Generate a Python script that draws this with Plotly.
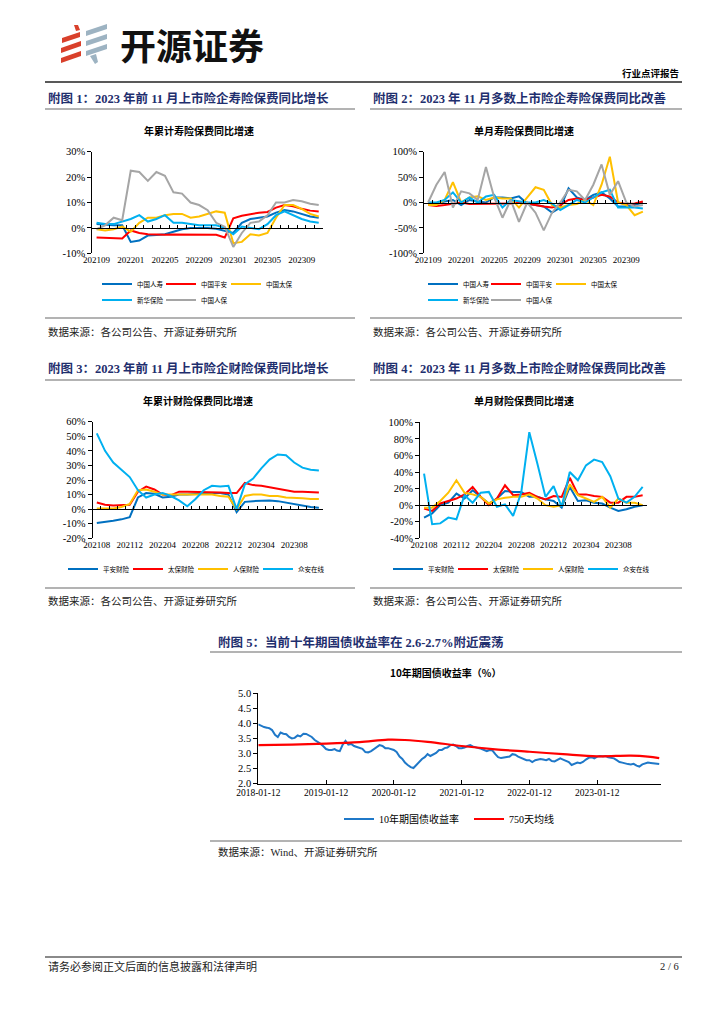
import plotly.graph_objects as go

W, H = 724, 1024
OFF = 8  # page body margin of the browser


def px(x):
    return (x - OFF) / W


def py(y):
    return 1 - (y - OFF) / H


SERIF = "Liberation Serif, Noto Sans CJK SC"
CJK = "Noto Sans CJK SC"
NAVY = "#1F2F6E"

C_DBLUE = "#0070C0"
C_RED = "#FF0000"
C_YEL = "#FFC000"
C_LBLUE = "#00B0F0"
C_GRAY = "#A5A5A5"

# ---------------- data ----------------
months_life = ["202109", "202110", "202111", "202112", "202201", "202202", "202203",
               "202204", "202205", "202206", "202207", "202208", "202209", "202210",
               "202211", "202212", "202301", "202302", "202303", "202304", "202305",
               "202306", "202307", "202308", "202309", "202310", "202311"]
life_ticks = ["202109", "202201", "202205", "202209", "202301", "202305", "202309"]

# Chart 1: 年累计寿险保费同比增速 (%)
ytd_chinalife = [1.5, 1.2, 1.0, 1.0, -5.5, -5.0, -3.0, -2.8, -2.5, -1.5, -0.5, 0.0, 0.0, 0.0,
                 -0.3, -1.0, -2.0, 2.0, 3.5, 4.0, 4.5, 6.0, 7.0, 6.5, 5.5, 4.5, 4.0]
ytd_pingan = [-3.8, -4.0, -4.2, -4.2, -1.0, -2.0, -2.5, -2.7, -2.7, -2.6, -2.6, -2.7, -2.7, -2.6,
              -2.7, -3.8, 3.8, 4.8, 5.5, 6.0, 6.3, 8.0, 9.0, 8.5, 7.5, 6.8, 6.5]
ytd_cpic = [-0.5, -1.0, -0.5, 0.5, -1.5, 2.0, 4.0, 4.0, 5.0, 5.5, 5.5, 4.0, 4.5, 5.5,
            6.5, 6.0, -6.0, -5.5, -2.5, -3.0, -2.0, 4.0, 9.0, 9.0, 7.5, 5.5, 4.5]
ytd_nci = [2.0, 1.5, 1.5, 2.5, 3.5, 5.0, 2.5, 3.5, 5.0, 2.0, 2.0, 1.5, 1.0, 1.0,
           1.0, 0.0, -2.5, 0.5, 0.0, -0.5, 1.5, 5.0, 6.5, 5.0, 3.5, 2.5, 2.0]
ytd_picc = [-0.5, 1.0, 4.0, 3.0, 22.5, 22.0, 18.5, 22.0, 20.5, 14.0, 13.5, 10.0, 9.0, 7.0,
            2.0, 0.5, -7.5, -2.0, 2.0, 2.5, 5.0, 10.0, 10.0, 11.0, 10.5, 9.5, 9.0]

# Chart 2: 单月寿险保费同比增速 (%)
mon_chinalife = [0, -2, 2, 5, -5, 5, 2, 0, 10, 10, 8, 12, -2, -5, -8, -20, -10, 28, 10, 5,
                 15, 20, 8, -8, -8, -5, 0]
mon_pingan = [-5, -7, -5, -3, 0, -3, -3, -2, -2, -3, -2, 0, -2, -5, -8, -10, -5, 5, 8, 5,
              10, 15, 12, 0, -3, -2, 2]
mon_cpic = [-5, -5, 5, 40, 0, 10, 12, 5, 10, 8, 8, -10, 10, 30, 25, -5, -10, -5, -3, 5,
            -5, 35, 90, 0, -5, -25, -18]
mon_nci = [0, 0, 5, 20, 0, 10, 0, 12, 15, -10, 5, 2, 0, 0, 5, -2, -15, -5, 5, 0,
           10, 20, 25, -10, -10, -10, -12]
mon_picc = [0, 35, 60, -10, 22, 18, 5, 70, 10, -30, 5, -38, 0, -20, -55, -20, 0, 25, 22, 5,
            35, 75, 15, 42, 0, -8, -5]

months_pc = ["202108", "202109", "202110", "202111", "202112", "202201", "202202", "202203",
             "202204", "202205", "202206", "202207", "202208", "202209", "202210", "202211",
             "202212", "202301", "202302", "202303", "202304", "202305", "202306", "202307",
             "202308", "202309", "202310", "202311"]
pc_ticks = ["202108", "202112", "202204", "202208", "202212", "202304", "202308"]

# Chart 3: 年累计财险保费同比增速 (%)
ytd_pa_pc = [-9.5, -9.0, -8.0, -7.0, -5.5, 8.0, 11.0, 10.5, 8.0, 8.5, 10.0, 10.0, 10.5, 11.0,
             11.0, 11.0, 10.0, -2.0, 5.0, 5.5, 6.0, 6.0, 5.5, 4.5, 3.0, 2.0, 1.5, 1.0]
ytd_cpic_pc = [4.5, 3.0, 2.5, 3.0, 3.0, 12.0, 15.5, 13.5, 10.0, 9.5, 12.0, 12.0, 12.0, 12.0,
               12.0, 11.5, 11.0, 11.0, 18.0, 16.5, 16.0, 15.0, 14.0, 13.0, 12.0, 12.0, 11.5, 11.5]
ytd_picc_pc = [0.5, 0.5, 0.5, 1.5, 3.5, 13.0, 13.5, 12.0, 10.0, 10.0, 10.0, 10.0, 10.0, 10.0,
               10.0, 9.0, 8.5, 0.0, 9.0, 10.0, 10.0, 9.0, 9.0, 8.0, 8.0, 7.5, 7.0, 7.0]
ytd_za = [52.0, 40.0, 32.0, 27.0, 22.0, 13.0, 8.0, 10.0, 11.0, 9.0, 6.0, 2.0, 7.0, 13.0,
          16.0, 15.5, 16.0, 0.0, 17.0, 21.0, 28.0, 34.0, 37.5, 37.0, 32.0, 28.5, 27.0, 26.5]

# Chart 4: 单月财险保费同比增速 (%)
mon_pa_pc = [-15, -10, 0, 3, 14, 8, 18, 10, 2, 8, 17, 16, 16, 10,
             10, 7, 5, -3, 22, 5, 6, 3, 2, -3, -7, -5, -2, 0]
mon_cpic_pc = [-4, -7, 2, 5, 8, 13, 22, 10, 0, 8, 24, 12, 13, 15,
               10, 7, 11, 10, 33, 13, 13, 11, 10, 3, 3, 10, 10, 12]
mon_picc_pc = [-3, -3, 5, 15, 30, 15, 13, 10, 2, 7, 9, 10, 10, 13,
               8, 0, -2, 0, 25, 12, 8, 4, 10, -3, 8, 3, 3, 0]
mon_za = [38, -23, -22, -15, -17, 12, 3, 15, 16, -2, 1, -13, 15, 88,
          50, 10, 23, -2, 40, 30, 48, 55, 52, 35, 8, 3, 10, 22]

# Chart 5: 10年期国债收益率 (%), semi-monthly readings
bond_dates = [
    "2018-01-12", "2018-01-27", "2018-02-12", "2018-02-27", "2018-03-12", "2018-03-27",
    "2018-04-12", "2018-04-27", "2018-05-12", "2018-05-27", "2018-06-12", "2018-06-27",
    "2018-07-12", "2018-07-27", "2018-08-12", "2018-08-27", "2018-09-12", "2018-09-27",
    "2018-10-12", "2018-10-27", "2018-11-12", "2018-11-27", "2018-12-12", "2018-12-27",
    "2019-01-12", "2019-01-27", "2019-02-12", "2019-02-27", "2019-03-12", "2019-03-27",
    "2019-04-12", "2019-04-27", "2019-05-12", "2019-05-27", "2019-06-12", "2019-06-27",
    "2019-07-12", "2019-07-27", "2019-08-12", "2019-08-27", "2019-09-12", "2019-09-27",
    "2019-10-12", "2019-10-27", "2019-11-12", "2019-11-27", "2019-12-12", "2019-12-27",
    "2020-01-12", "2020-01-27", "2020-02-12", "2020-02-27", "2020-03-12", "2020-03-27",
    "2020-04-12", "2020-04-27", "2020-05-12", "2020-05-27", "2020-06-12", "2020-06-27",
    "2020-07-12", "2020-07-27", "2020-08-12", "2020-08-27", "2020-09-12", "2020-09-27",
    "2020-10-12", "2020-10-27", "2020-11-12", "2020-11-27", "2020-12-12", "2020-12-27",
    "2021-01-12", "2021-01-27", "2021-02-12", "2021-02-27", "2021-03-12", "2021-03-27",
    "2021-04-12", "2021-04-27", "2021-05-12", "2021-05-27", "2021-06-12", "2021-06-27",
    "2021-07-12", "2021-07-27", "2021-08-12", "2021-08-27", "2021-09-12", "2021-09-27",
    "2021-10-12", "2021-10-27", "2021-11-12", "2021-11-27", "2021-12-12", "2021-12-27",
    "2022-01-12", "2022-01-27", "2022-02-12", "2022-02-27", "2022-03-12", "2022-03-27",
    "2022-04-12", "2022-04-27", "2022-05-12", "2022-05-27", "2022-06-12", "2022-06-27",
    "2022-07-12", "2022-07-27", "2022-08-12", "2022-08-27", "2022-09-12", "2022-09-27",
    "2022-10-12", "2022-10-27", "2022-11-12", "2022-11-27", "2022-12-12", "2022-12-27",
    "2023-01-12", "2023-01-27", "2023-02-12", "2023-02-27", "2023-03-12", "2023-03-27",
    "2023-04-12", "2023-04-27", "2023-05-12", "2023-05-27", "2023-06-12", "2023-06-27",
    "2023-07-12", "2023-07-27", "2023-08-12", "2023-08-27", "2023-09-12", "2023-09-27",
    "2023-10-12", "2023-10-27", "2023-11-12", "2023-11-27", "2023-12-12"]
bond_yield = [
    3.97, 3.92, 3.88, 3.86, 3.84, 3.78, 3.62, 3.55, 3.70, 3.66, 3.64, 3.55,
    3.50, 3.52, 3.60, 3.57, 3.66, 3.65, 3.60, 3.55, 3.45, 3.40, 3.33, 3.25,
    3.15, 3.12, 3.12, 3.15, 3.10, 3.08, 3.30, 3.42, 3.30, 3.32, 3.25, 3.22,
    3.18, 3.16, 3.05, 3.04, 3.08, 3.14, 3.22, 3.28, 3.25, 3.18, 3.18, 3.14,
    3.12, 3.05, 2.90, 2.82, 2.70, 2.62, 2.55, 2.52, 2.62, 2.70, 2.82, 2.88,
    2.98, 2.92, 2.96, 3.02, 3.12, 3.12, 3.18, 3.20, 3.28, 3.30, 3.25, 3.18,
    3.18, 3.20, 3.25, 3.28, 3.24, 3.20, 3.18, 3.16, 3.12, 3.08, 3.12, 3.10,
    2.98, 2.88, 2.85, 2.86, 2.88, 2.90, 2.98, 2.96, 2.90, 2.86, 2.82, 2.78,
    2.78, 2.72, 2.78, 2.80, 2.82, 2.80, 2.78, 2.82, 2.75, 2.74, 2.80, 2.84,
    2.80, 2.76, 2.72, 2.62, 2.66, 2.70, 2.68, 2.72, 2.80, 2.86, 2.88, 2.84,
    2.90, 2.92, 2.90, 2.92, 2.88, 2.85, 2.84, 2.78, 2.72, 2.70, 2.67, 2.65,
    2.64, 2.66, 2.60, 2.57, 2.64, 2.68, 2.70, 2.69, 2.68, 2.66, 2.65]
ma_dates = ["2018-01-12", "2018-07-12", "2019-01-12", "2019-07-12", "2019-12-12", "2020-03-12",
            "2020-07-12", "2021-01-12", "2021-07-12", "2022-01-12", "2022-07-12", "2023-01-12",
            "2023-07-12", "2023-10-12", "2023-12-12"]
ma_750 = [3.28, 3.30, 3.33, 3.38, 3.46, 3.45, 3.39, 3.25, 3.14, 3.06, 2.98, 2.91,
          2.93, 2.90, 2.85]
bond_ticks = ["2018-01-12", "2019-01-12", "2020-01-12", "2021-01-12", "2022-01-12", "2023-01-12"]

# ---------------- figure ----------------
fig = go.Figure()
layout = {}
legend_count = [0]


def legend_cfg(x_line, y_mid, size):
    return dict(x=px(x_line - 9), y=py(y_mid), xanchor="left", yanchor="middle",
                orientation="h", font=dict(family=SERIF, size=size, color="black"),
                itemwidth=30, bgcolor="rgba(0,0,0,0)", borderwidth=0,
                itemclick=False, itemdoubleclick=False)


def add_line(x, y, name, color, xa, ya, leg_pos, width=2.0, shape="linear", leg_size=6.5):
    legend_count[0] += 1
    n = legend_count[0]
    key = "legend" if n == 1 else f"legend{n}"
    layout[key] = legend_cfg(leg_pos[0], leg_pos[1], leg_size)
    fig.add_trace(go.Scatter(x=x, y=y, name=name, mode="lines",
                             line=dict(color=color, width=width, shape=shape),
                             xaxis=xa, yaxis=ya, legend=key, hoverinfo="skip"))


def cat_axes(k, n, xl, xr, ytop, ybot, yr, ystep, zero_px, ticks):
    xa, ya, xt = 2 * k - 1, k, 2 * k
    layout[f"xaxis{xa}"] = dict(domain=[px(xl), px(xr)], anchor=f"y{ya}", type="category",
                                range=[-0.5, n - 0.5], tickvals=ticks, ticktext=ticks,
                                ticks="", showline=False, showgrid=False, zeroline=False,
                                tickfont=dict(family=SERIF, size=9, color="black"))
    yt = list(range(yr[0], yr[1] + 1, ystep))
    layout[f"yaxis{ya}"] = dict(domain=[py(ybot), py(ytop)], anchor=f"x{xa}", range=yr,
                                tickvals=yt, ticktext=[f"{v}%" for v in yt],
                                showline=True, linecolor="black", linewidth=1,
                                ticks="outside", ticklen=4, tickcolor="black",
                                showgrid=False, zeroline=False,
                                tickfont=dict(family=SERIF, size=10.5, color="black"))
    layout[f"xaxis{xt}"] = dict(overlaying=f"x{xa}", anchor="free", position=py(zero_px),
                                range=[-0.5, n - 0.5], type="linear",
                                tickvals=[i - 0.5 for i in range(n + 1)],
                                ticks="inside", ticklen=3, tickcolor="black",
                                showticklabels=False, showline=True, linecolor="black",
                                linewidth=1, showgrid=False, zeroline=False)
    # empty helper trace so the zero-line axis is rendered
    fig.add_trace(go.Scatter(x=[], y=[], xaxis=f"x{xt}", yaxis=f"y{ya}",
                             showlegend=False, hoverinfo="skip"))
    return f"x{xa}", f"y{ya}"


# Chart 1
xa, ya = cat_axes(1, len(months_life), 92.3, 323, 151.7, 253.3, [-10, 30], 10, 228.3, life_ticks)
add_line(months_life, ytd_chinalife, "中国人寿", C_DBLUE, xa, ya, (106, 284))
add_line(months_life, ytd_pingan, "中国平安", C_RED, xa, ya, (170, 284))
add_line(months_life, ytd_cpic, "中国太保", C_YEL, xa, ya, (235, 284))
add_line(months_life, ytd_nci, "新华保险", C_LBLUE, xa, ya, (106, 300))
add_line(months_life, ytd_picc, "中国人保", C_GRAY, xa, ya, (170, 300))

# Chart 2
xa, ya = cat_axes(2, len(months_life), 424, 647, 151.7, 253.3, [-100, 100], 50, 202.5, life_ticks)
add_line(months_life, mon_chinalife, "中国人寿", C_DBLUE, xa, ya, (432, 284))
add_line(months_life, mon_pingan, "中国平安", C_RED, xa, ya, (495, 284))
add_line(months_life, mon_cpic, "中国太保", C_YEL, xa, ya, (560, 284))
add_line(months_life, mon_nci, "新华保险", C_LBLUE, xa, ya, (432, 300))
add_line(months_life, mon_picc, "中国人保", C_GRAY, xa, ya, (495, 300))

# Chart 3
xa, ya = cat_axes(3, len(months_pc), 92.7, 323, 421.7, 538.3, [-20, 60], 10, 509.1, pc_ticks)
add_line(months_pc, ytd_pa_pc, "平安财险", C_DBLUE, xa, ya, (72, 569))
add_line(months_pc, ytd_cpic_pc, "太保财险", C_RED, xa, ya, (137, 569))
add_line(months_pc, ytd_picc_pc, "人保财险", C_YEL, xa, ya, (202, 569))
add_line(months_pc, ytd_za, "众安在线", C_LBLUE, xa, ya, (267, 569))

# Chart 4
xa, ya = cat_axes(4, len(months_pc), 420, 646.7, 422.3, 538.3, [-40, 100], 20, 505.2, pc_ticks)
add_line(months_pc, mon_pa_pc, "平安财险", C_DBLUE, xa, ya, (397, 569))
add_line(months_pc, mon_cpic_pc, "太保财险", C_RED, xa, ya, (462, 569))
add_line(months_pc, mon_picc_pc, "人保财险", C_YEL, xa, ya, (527, 569))
add_line(months_pc, mon_za, "众安在线", C_LBLUE, xa, ya, (592, 569))

# Chart 5
layout["xaxis9"] = dict(domain=[px(258.3), px(660.7)], anchor="y5", type="date",
                        range=["2018-01-12", "2023-12-20"], tickvals=bond_ticks, ticktext=bond_ticks,
                        ticks="inside", ticklen=4, tickcolor="black", showline=True,
                        linecolor="black", linewidth=1, showgrid=False, zeroline=False,
                        tickfont=dict(family=SERIF, size=9.5, color="black"))
layout["yaxis5"] = dict(domain=[py(783.7), py(693.3)], anchor="x9", range=[2.0, 5.0],
                        tickvals=[2.0, 2.5, 3.0, 3.5, 4.0, 4.5, 5.0], tickformat=".1f",
                        showline=True, linecolor="black", linewidth=1, ticks="outside",
                        ticklen=4, tickcolor="black", showgrid=False, zeroline=False,
                        tickfont=dict(family=SERIF, size=10.5, color="black"))
add_line(bond_dates, bond_yield, "10年期国债收益率", "#1F78C8", "x9", "y5", (348, 819),
         width=2.0, leg_size=10)
add_line(ma_dates, ma_750, "750天均线", C_RED, "x9", "y5", (478, 819),
         width=2.2, shape="spline", leg_size=10)

# ---------------- page decorations ----------------
shapes = []


def hline(x0, x1, y, color, width):
    shapes.append(dict(type="line", xref="paper", yref="paper", x0=px(x0), x1=px(x1),
                       y0=py(y), y1=py(y), line=dict(color=color, width=width)))


hline(45, 682, 82, "#222222", 1.5)
hline(45, 355, 109, "#9A9A9A", 1.5)
hline(370, 682, 109, "#9A9A9A", 1.5)
hline(45, 355, 318, "#9A9A9A", 1.5)
hline(370, 682, 318, "#9A9A9A", 1.5)
hline(45, 355, 380, "#9A9A9A", 1.5)
hline(370, 682, 380, "#9A9A9A", 1.5)
hline(45, 355, 588, "#9A9A9A", 1.5)
hline(370, 682, 588, "#9A9A9A", 1.5)
hline(210, 682, 652, "#9A9A9A", 1.5)
hline(210, 682, 841, "#9A9A9A", 1.5)
hline(45, 682, 957, "#8A8A8A", 2)


def poly(points, color):
    path = "M " + " L ".join(f"{px(x)},{py(y)}" for x, y in points) + " Z"
    shapes.append(dict(type="path", xref="paper", yref="paper", path=path,
                       fillcolor=color, line=dict(width=0)))


# logo
LOGO_RED = "#D9402B"
LOGO_GRAY = "#9DB3C2"
poly([(74, 25), (78, 25), (80, 30), (76, 31)], LOGO_RED)
poly([(62, 38), (80, 32), (80, 37), (62, 43)], LOGO_RED)
poly([(61, 48), (81, 41), (81, 46), (61, 53)], LOGO_RED)
poly([(61, 58), (81, 51), (81, 56), (61, 63)], LOGO_RED)
poly([(86, 31), (107, 24), (107, 29), (86, 36)], LOGO_GRAY)
poly([(86, 41), (107, 34), (107, 39), (86, 46)], LOGO_GRAY)
poly([(86, 51), (107, 44), (107, 49), (86, 56)], LOGO_GRAY)
poly([(90, 56), (96, 54), (98, 62), (95, 64)], LOGO_GRAY)

annotations = []


def text(x, y, s, size, family=CJK, color="black", bold=False, anchor="left"):
    annotations.append(dict(x=px(x), y=py(y), xref="paper", yref="paper", showarrow=False,
                            text=f"<b>{s}</b>" if bold else s, xanchor=anchor, yanchor="middle",
                            font=dict(family=family, size=size, color=color)))


text(118, 44, "开源证券", 36, bold=True, color="#111111")
text(681, 73, "行业点评报告", 9.5, bold=True, anchor="right")

text(46, 98, "附图 1：2023 年前 11 月上市险企寿险保费同比增长", 12.5, family=SERIF, color=NAVY, bold=True)
text(371, 98, "附图 2：2023 年 11 月多数上市险企寿险保费同比改善", 12.5, family=SERIF, color=NAVY, bold=True)
text(46, 368, "附图 3：2023 年前 11 月上市险企财险保费同比增长", 12.5, family=SERIF, color=NAVY, bold=True)
text(371, 368, "附图 4：2023 年 11 月多数上市险企财险保费同比改善", 12.5, family=SERIF, color=NAVY, bold=True)
text(216, 642, "附图 5：当前十年期国债收益率在 2.6-2.7%附近震荡", 12.5, family=SERIF, color=NAVY, bold=True)

text(199, 130.5, "年累计寿险保费同比增速", 10, bold=True, anchor="center")
text(524, 130.5, "单月寿险保费同比增速", 10, bold=True, anchor="center")
text(198, 400, "年累计财险保费同比增速", 10, bold=True, anchor="center")
text(524, 400, "单月财险保费同比增速", 10, bold=True, anchor="center")
text(446, 672, "10年期国债收益率（%）", 10, bold=True, anchor="center")

text(46, 331, "数据来源：各公司公告、开源证券研究所", 10.5, color="#222222")
text(371, 331, "数据来源：各公司公告、开源证券研究所", 10.5, color="#222222")
text(46, 600, "数据来源：各公司公告、开源证券研究所", 10.5, color="#222222")
text(371, 600, "数据来源：各公司公告、开源证券研究所", 10.5, color="#222222")
text(216, 852, "数据来源：Wind、开源证券研究所", 10.5, family=SERIF, color="#222222")

text(46, 966, "请务必参阅正文后面的信息披露和法律声明", 11, color="#222222")
text(681, 966, "2 / 6", 10.5, family=SERIF, color="#222222", anchor="right")

fig.update_layout(**layout)
fig.update_layout(width=W, height=H, margin=dict(l=0, r=0, t=0, b=0, pad=0, autoexpand=False),
                  paper_bgcolor="white", plot_bgcolor="white",
                  shapes=shapes, annotations=annotations, showlegend=True,
                  hovermode=False)

fig.write_html("out.html")
